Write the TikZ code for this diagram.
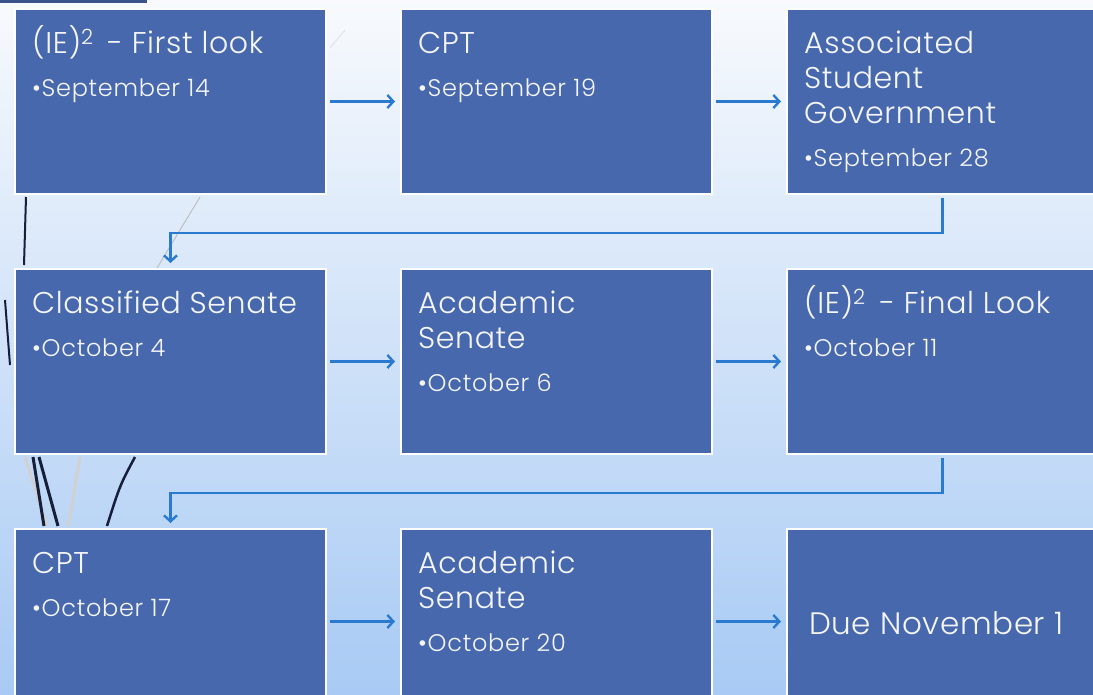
\documentclass[tikz,border=0pt]{standalone}
\usepackage{fontspec}
\setmainfont{Poppins}[UprightFont=* Light]
\newfontfamily\titlefam{Poppins}[UprightFont=* Light, LetterSpace=2]
\newfontfamily\datefam{Poppins}[UprightFont=* Light, LetterSpace=3]
\usetikzlibrary{arrows.meta}
\definecolor{boxblue}{RGB}{72,104,174}
\definecolor{flowblue}{RGB}{42,122,208}
\definecolor{bgtop}{RGB}{248,250,253}
\definecolor{bgbottom}{RGB}{168,202,244}
\definecolor{swoosh}{RGB}{22,30,58}
\def\titlefont{\titlefam\fontsize{30}{35}\selectfont\rule{0pt}{28pt}}
\def\datefont{\datefam\fontsize{24}{29}\selectfont}
\tikzset{
	stepbox/.style={draw=white, line width=2pt, fill=boxblue, minimum width=311, minimum height=185, anchor=north west, inner sep=0pt},
	boxtext/.style={anchor=north west, inner sep=0pt, text width=290, align=flush left, text=white!94!boxblue},
	flow/.style={draw=flowblue, line width=2.6pt, -{Straight Barb[length=6pt, width=13pt, line width=2.4pt]}, shorten <=3pt, shorten >=5pt}
}

\begin{document}
\begin{tikzpicture}[x=1pt, y=-1pt]
		%%%%% START %%%%%
		\useasboundingbox (0, 0) rectangle (1093, 694);
		\clip (0, 0) rectangle (1093, 694);
		\shade[top color=bgtop, bottom color=bgbottom] (0, 0) rectangle (1093, 694);
		\fill[boxblue!80!black] (0, 0) rectangle (147, 3);
		
		% background swooshes
		\draw[line width=2pt, color=swoosh] (26, 197) -- (24, 265);
		\draw[line width=2pt, color=swoosh] (5, 300) -- (10, 365);
		\draw[line width=1pt, color=black!25] (200, 197) -- (157, 268);
		\draw[line width=0.8pt, color=black!12] (345, 30) -- (330, 48);
		\draw[line width=3pt, color=black!18] (25, 457) -- (47, 526);
		\draw[line width=3pt, color=black!18] (80, 457) -- (68, 526);
		\draw[line width=3pt, color=swoosh] (33, 457) -- (44, 526);
		\draw[line width=3pt, color=swoosh] (39, 457) -- (58, 526);
		\draw[line width=2.5pt, color=swoosh] (135, 457) .. controls (120, 485) .. (107, 526);
		
		% boxes
		\node[stepbox] (b1) at (14, 8) {};
		\node[stepbox] (b2) at (400, 8) {};
		\node[stepbox] (b3) at (786, 8) {};
		\node[stepbox] (b4) at (14, 268) {};
		\node[stepbox] (b5) at (400, 268) {};
		\node[stepbox] (b6) at (786, 268) {};
		\node[stepbox] (b7) at (14, 528) {};
		\node[stepbox] (b8) at (400, 528) {};
		\node[stepbox] (b9) at (786, 528) {};
		
		% texts
		\node[boxtext] (t1) at ([shift={(18, 17)}]b1.north west) {\titlefont(IE)\smash{\textsuperscript{2}}\hspace{5pt} - First look\par\vspace{14pt}\datefont\textbullet September 14\par};
		\node[boxtext] (t2) at ([shift={(18, 17)}]b2.north west) {\titlefont CPT\par\vspace{14pt}\datefont\textbullet September 19\par};
		\node[boxtext] (t3) at ([shift={(18, 17)}]b3.north west) {\titlefont Associated\\Student\\Government\par\vspace{14pt}\datefont\textbullet September 28\par};
		\node[boxtext] (t4) at ([shift={(18, 17)}]b4.north west) {\titlefont Classified Senate\par\vspace{14pt}\datefont\textbullet October 4\par};
		\node[boxtext] (t5) at ([shift={(18, 17)}]b5.north west) {\titlefont Academic\\Senate\par\vspace{14pt}\datefont\textbullet October 6\par};
		\node[boxtext] (t6) at ([shift={(18, 17)}]b6.north west) {\titlefont(IE)\smash{\textsuperscript{2}}\hspace{5pt} - Final Look\par\vspace{14pt}\datefont\textbullet October 11\par};
		\node[boxtext] (t7) at ([shift={(18, 17)}]b7.north west) {\titlefont CPT\par\vspace{14pt}\datefont\textbullet October 17\par};
		\node[boxtext] (t8) at ([shift={(18, 17)}]b8.north west) {\titlefont Academic\\Senate\par\vspace{14pt}\datefont\textbullet October 20\par};
		\node[anchor=west, inner sep=0pt, text=white!94!boxblue] (t9) at ([shift={(23, 2)}]b9.west) {\titlefam\fontsize{31}{35}\selectfont Due November 1};
		
		% connectors
		\draw[flow] (b1.east) -- (b2.west);
		\draw[flow] (b2.east) -- (b3.west);
		\draw[flow] (b3.south) -- ++(0, 38) -| (b4.north);
		\draw[flow] (b4.east) -- (b5.west);
		\draw[flow] (b5.east) -- (b6.west);
		\draw[flow] (b6.south) -- ++(0, 38) -| (b7.north);
		\draw[flow] (b7.east) -- (b8.west);
		\draw[flow] (b8.east) -- (b9.west);
		%%%%% END %%%%%
	\end{tikzpicture}
\end{document}
